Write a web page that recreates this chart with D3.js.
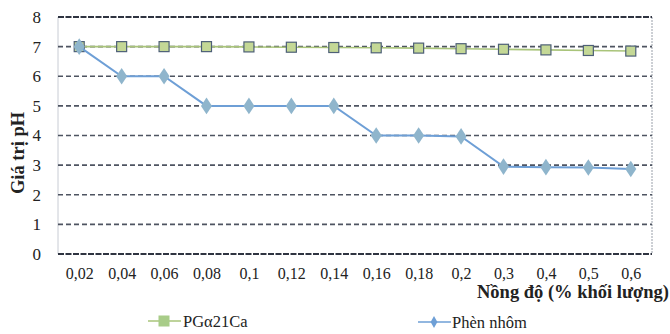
<!DOCTYPE html>
<html>
<head>
<meta charset="utf-8">
<script src="https://cdn.jsdelivr.net/npm/d3@7/dist/d3.min.js"></script>
<style>
  html, body { margin: 0; padding: 0; background: #fff; }
  svg { display: block; }
  svg text { font-family: "Liberation Serif", "Times New Roman", "DejaVu Serif", serif; }
</style>
</head>
<body>
<svg id="chart" width="670" height="334"></svg>
<script>
// Concentration categories (% by mass)
const categories = ["0,02","0,04","0,06","0,08","0,1","0,12","0,14","0,16","0,18","0,2","0,3","0,4","0,5","0,6"];
// pH values for each coagulant
const pgValues   = [7.0, 7.0, 7.0, 7.0, 6.99, 6.98, 6.97, 6.96, 6.95, 6.93, 6.91, 6.89, 6.87, 6.85];
const phenValues = [7.0, 6.0, 6.0, 5.0, 5.0, 5.0, 5.0, 4.0, 4.0, 3.97, 2.95, 2.93, 2.92, 2.87];
const yTicks = [0, 1, 2, 3, 4, 5, 6, 7, 8];
const seriesNames = ["PG\u03B121Ca", "Ph\u00E8n nh\u00F4m"];

const svg = d3.select("#chart");

const plot = { left: 58, right: 652, top: 17, bottom: 254 };

const x = d3.scalePoint()
  .domain(categories)
  .range([plot.left, plot.right])
  .padding(0.5);

const y = d3.scaleLinear()
  .domain([0, 8])
  .range([plot.bottom, plot.top]);

// Plot frame sides
svg.append("line")
  .attr("x1", plot.left).attr("x2", plot.left)
  .attr("y1", plot.top).attr("y2", plot.bottom)
  .attr("stroke", "#c8ccd4").attr("stroke-width", 1);
svg.append("line")
  .attr("x1", plot.right).attr("x2", plot.right)
  .attr("y1", plot.top).attr("y2", plot.bottom)
  .attr("stroke", "#9aa0aa").attr("stroke-width", 1)
  .attr("stroke-dasharray", "2,1");

// Dashed horizontal gridlines
svg.append("g")
  .selectAll("line")
  .data(yTicks)
  .join("line")
  .attr("x1", plot.left).attr("x2", plot.right)
  .attr("y1", d => y(d)).attr("y2", d => y(d))
  .attr("stroke", d => (d === 0 || d === 8) ? "#2e3340" : "#4e5461")
  .attr("stroke-width", d => (d === 0 || d === 8) ? 2 : 1.6)
  .attr("stroke-dasharray", d => (d === 0 || d === 8) ? "6,1.5" : "5,3");

// Y axis labels
const yAxis = d3.axisLeft(y).tickValues(yTicks).tickSize(0).tickPadding(17);
const gy = svg.append("g").attr("transform", `translate(${plot.left},0)`).call(yAxis);
gy.select(".domain").remove();
gy.attr("font-family", null);
gy.selectAll("text").attr("font-size", 17).attr("fill", "#222");

// X axis labels
const xAxis = d3.axisBottom(x).tickSize(0).tickPadding(14);
const gx = svg.append("g").attr("transform", `translate(0,${plot.bottom})`).call(xAxis);
gx.select(".domain").remove();
gx.attr("font-family", null);
gx.selectAll("text").attr("font-size", 16).attr("fill", "#222");

// Axis titles
svg.append("text")
  .attr("transform", `translate(24,153) rotate(-90)`)
  .attr("text-anchor", "middle")
  .attr("font-size", 18.5).attr("font-weight", "bold")
  .attr("fill", "#222")
  .text("Gi\u00E1 tr\u1ECB pH");

svg.append("text")
  .attr("x", 669).attr("y", 298)
  .attr("text-anchor", "end")
  .attr("font-size", 18.5).attr("font-weight", "bold")
  .attr("fill", "#222")
  .text("N\u1ED3ng \u0111\u1ED9 (% kh\u1ED1i l\u01B0\u1EE3ng)");

const line = d3.line()
  .x((d, i) => x(categories[i]))
  .y(d => y(d));

// PGα21Ca series
svg.append("path")
  .datum(pgValues)
  .attr("d", line)
  .attr("fill", "none")
  .attr("stroke", "#a9c47a").attr("stroke-width", 1.6);
svg.append("g")
  .selectAll("rect")
  .data(pgValues)
  .join("rect")
  .attr("x", (d, i) => x(categories[i]) - 5)
  .attr("y", d => y(d) - 5)
  .attr("width", 10).attr("height", 10)
  .attr("fill", "#c4d896")
  .attr("stroke", "#4e6077").attr("stroke-width", 1.2);

// Phèn nhôm series
const diamond = d3.symbol().type(d3.symbolDiamond).size(80);
svg.append("path")
  .datum(phenValues)
  .attr("d", line)
  .attr("fill", "none")
  .attr("stroke", "#6e9fd6").attr("stroke-width", 2);
svg.append("g")
  .selectAll("path")
  .data(phenValues)
  .join("path")
  .attr("d", diamond)
  .attr("transform", (d, i) => `translate(${x(categories[i])},${y(d)}) scale(1.15,1)`)
  .attr("fill", "#8fb5cc");

// Legend
const legend = svg.append("g");
const lg1 = legend.append("g").attr("transform", "translate(148,321)");
lg1.append("line").attr("x1", 0).attr("x2", 33).attr("y1", 0).attr("y2", 0)
  .attr("stroke", "#a9c47a").attr("stroke-width", 1.6);
lg1.append("rect").attr("x", 11).attr("y", -5).attr("width", 10).attr("height", 10)
  .attr("fill", "#a8cc88").attr("stroke", "#a8cc88");
lg1.append("text").attr("x", 35).attr("y", 6)
  .attr("font-size", 16.5).attr("fill", "#222")
  .text(seriesNames[0]);

const lg2 = legend.append("g").attr("transform", "translate(418,322)");
lg2.append("line").attr("x1", 0).attr("x2", 33).attr("y1", 0).attr("y2", 0)
  .attr("stroke", "#6e9fd6").attr("stroke-width", 1.6);
lg2.append("path").attr("d", d3.symbol().type(d3.symbolDiamond).size(40))
  .attr("transform", "translate(16,0)")
  .attr("fill", "#6e9fd6");
lg2.append("text").attr("x", 34).attr("y", 6)
  .attr("font-size", 16.5).attr("fill", "#222")
  .text(seriesNames[1]);
</script>
</body>
</html>
